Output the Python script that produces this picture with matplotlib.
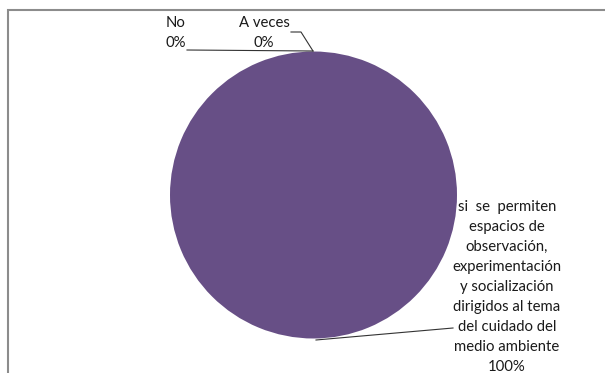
import matplotlib.pyplot as plt
from matplotlib.patches import Rectangle

labels = ["si  se  permiten\nespacios de\nobservación,\nexperimentación\ny socialización\ndirigidos al tema\ndel cuidado del\nmedio ambiente", "No", "A veces"]
values = [100, 0, 0]
color = "#674F86"

W, H = 605, 373
fig = plt.figure(figsize=(W / 100, H / 100), dpi=100)
ax = fig.add_axes([0, 0, 1, 1])

def y(v):
    return H - v

# chart frame
ax.add_patch(Rectangle((8, y(10) - 400), 700, 400, fill=False, ec="#8c8c8c", lw=1.5))

cx, cy, r = 313.5, y(195), 143.5
ax.pie(values, colors=[color] * 3, startangle=90, counterclock=False,
       center=(cx, cy), radius=r, frame=True,
       wedgeprops=dict(linewidth=0))
ax.set_xlim(0, W)
ax.set_ylim(0, H)
ax.set_aspect("auto")
ax.axis("off")

font = dict(family="Lato", fontsize=10.7, color="#1a1a1a")
total = sum(values)
pct = ["%d%%" % round(v * 100 / total) for v in values]

# main label
ax.text(507, y(287), labels[0] + "\n" + pct[0], ha="center", va="center", linespacing=1.55, **font)
ax.plot([316, 453], [y(340), y(328)], color="#333333", lw=0.8)

# zero slices
ax.text(176, y(33), labels[1] + "\n" + pct[1], ha="center", va="center", linespacing=1.5, **font)
ax.plot([187, 313], [y(50), y(51)], color="#333333", lw=0.8)
ax.text(264, y(33), labels[2] + "\n" + pct[2], ha="center", va="center", linespacing=1.5, **font)
ax.plot([291, 301, 313], [y(32), y(32), y(51)], color="#333333", lw=0.8)

fig.savefig("out.png", dpi=100)
